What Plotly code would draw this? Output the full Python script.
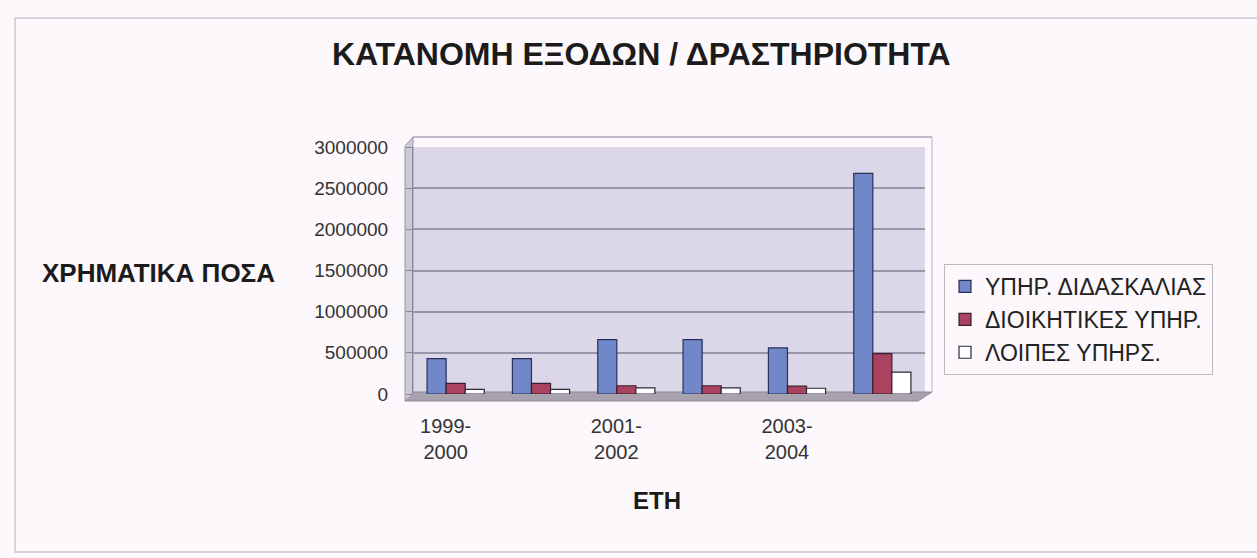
import plotly.graph_objects as go

# Expenditure by activity, per academic year (last group is the total)
categories = ["1999-2000", "2000-2001", "2001-2002", "2002-2003", "2003-2004", "ΣΥΝΟΛΟ"]
tick_values = ["1999-2000", "2001-2002", "2003-2004"]
tick_labels = ["1999-<br>2000", "2001-<br>2002", "2003-<br>2004"]

teaching = [430000, 430000, 660000, 660000, 560000, 2680000]
administrative = [130000, 130000, 100000, 100000, 95000, 490000]
other = [55000, 55000, 75000, 75000, 70000, 265000]

series_names = ["ΥΠΗΡ. ΔΙΔΑΣΚΑΛΙΑΣ", "ΔΙΟΙΚΗΤΙΚΕΣ ΥΠΗΡ.", "ΛΟΙΠΕΣ ΥΠΗΡΣ."]

W, H = 1257, 558


def px(x):
    return x / W


def py(y):
    return 1 - y / H


FONT = "Liberation Sans, Arial, sans-serif"

fig = go.Figure()
fig.add_trace(go.Bar(x=categories, y=teaching, name=series_names[0],
                     marker=dict(color="#7287c8", line=dict(color="#27305c", width=1.2))))
fig.add_trace(go.Bar(x=categories, y=administrative, name=series_names[1],
                     marker=dict(color="#a9435f", line=dict(color="#3a1f2c", width=1.2))))
fig.add_trace(go.Bar(x=categories, y=other, name=series_names[2],
                     marker=dict(color="#ffffff", line=dict(color="#2a2a38", width=1.2))))

shapes = [
    # outer frame of the chart
    dict(type="rect", xref="paper", yref="paper", x0=px(15), x1=px(1275), y0=py(552), y1=py(18),
         line=dict(color="#d8d3d8", width=2), fillcolor="rgba(0,0,0,0)", layer="below"),
    # floor of the 3-D box
    dict(type="path", xref="paper", yref="paper", layer="below",
         path=f"M {px(405)} {py(401)} L {px(918)} {py(401)} L {px(932)} {py(392)} L {px(413)} {py(392)} Z",
         fillcolor="#a8a2ae", line=dict(color="#8d8894", width=1)),
    # side wall on the left
    dict(type="path", xref="paper", yref="paper", layer="below",
         path=f"M {px(405)} {py(401)} L {px(413)} {py(394)} L {px(413)} {py(137)} L {px(405)} {py(146)} Z",
         fillcolor="#cdc8da", line=dict(color="#9a96a6", width=1)),
    # back wall top edge
    dict(type="line", xref="paper", yref="paper", x0=px(413), x1=px(932), y0=py(137), y1=py(137),
         line=dict(color="#aaa6b6", width=1.5)),
    dict(type="line", xref="paper", yref="paper", x0=px(932), x1=px(932), y0=py(137), y1=py(392),
         line=dict(color="#b7b3c2", width=1)),
]

annotations = [
    dict(text="<b>ΚΑΤΑΝΟΜΗ ΕΞΟΔΩΝ / ΔΡΑΣΤΗΡΙΟΤΗΤΑ</b>", xref="paper", yref="paper",
         x=px(642), y=py(54), xanchor="center", yanchor="middle", showarrow=False,
         font=dict(family=FONT, size=32, color="#1b1b1b")),
    dict(text="<b>ΧΡΗΜΑΤΙΚΑ ΠΟΣΑ</b>", xref="paper", yref="paper",
         x=px(40), y=py(273), xanchor="left", yanchor="middle", showarrow=False,
         font=dict(family=FONT, size=26, color="#1b1b1b")),
    dict(text="<b>ΕΤΗ</b>", xref="paper", yref="paper",
         x=px(657), y=py(500), xanchor="center", yanchor="middle", showarrow=False,
         font=dict(family=FONT, size=24, color="#1b1b1b")),
]

fig.update_layout(
    width=W, height=H,
    margin=dict(l=0, r=0, t=0, b=0),
    paper_bgcolor="#fcf8fc",
    plot_bgcolor="#dbd6e8",
    barmode="group",
    bargap=0.33,
    bargroupgap=0.0,
    font=dict(family=FONT, color="#333333"),
    shapes=shapes,
    annotations=annotations,
    showlegend=True,
    legend=dict(
        x=px(944), y=py(264), xanchor="left", yanchor="top",
        font=dict(family=FONT, size=23, color="#222222"),
        bgcolor="#fcf8fc", bordercolor="#bdb8bd", borderwidth=1,
        itemwidth=30, tracegroupgap=0, traceorder="normal",
    ),
    xaxis=dict(
        type="category", categoryorder="array", categoryarray=categories,
        domain=[px(413), px(925)],
        tickmode="array", tickvals=tick_values, ticktext=tick_labels,
        tickfont=dict(family=FONT, size=20, color="#333333"),
        ticks="", showline=False, showgrid=False, zeroline=False,
        ticklabelstandoff=18, ticklabelshift=-10,
        automargin=False,
    ),
    yaxis=dict(
        range=[0, 3000000], dtick=500000, tickformat="d",
        domain=[py(394), py(147)],
        tickfont=dict(family=FONT, size=19, color="#333333"),
        ticks="outside", ticklen=6, tickcolor="#8a8794",
        showline=True, linecolor="#8a8794", linewidth=1,
        showgrid=True, gridcolor="#9895aa", gridwidth=1.5,
        zeroline=False, ticklabelstandoff=14,
        automargin=False,
    ),
)

fig.write_html("out.html")
